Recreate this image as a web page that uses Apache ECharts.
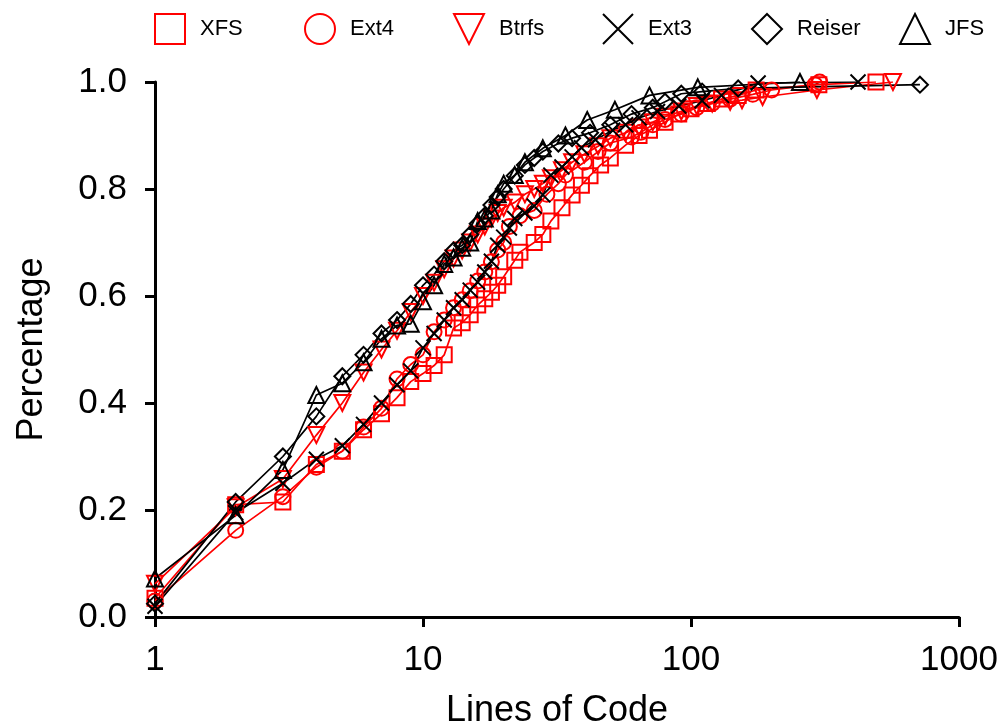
<!DOCTYPE html>
<html>
<head>
<meta charset="utf-8">
<script src="https://cdn.jsdelivr.net/npm/echarts/dist/echarts.min.js"></script>
<style>
  html, body { margin: 0; padding: 0; background: #fff; }
  #chart { width: 1003px; height: 726px; }
</style>
</head>
<body>
<div id="chart"></div>
<script>
// lines of code (x) and cumulative share (y) per file system
const xfsLoc = [1, 2, 3, 4, 5, 6, 7, 8, 9, 10, 11, 12, 13, 14, 15, 16, 17, 18, 19, 20, 22, 23, 26, 28, 30, 33, 36, 39, 42, 46, 50, 57, 64, 70, 80, 90, 100, 115, 130, 150, 175, 300, 490];
const xfsPct = [0.035, 0.21, 0.215, 0.285, 0.31, 0.35, 0.38, 0.41, 0.44, 0.455, 0.47, 0.49, 0.54, 0.55, 0.565, 0.583, 0.595, 0.607, 0.62, 0.636, 0.667, 0.682, 0.70, 0.715, 0.74, 0.765, 0.789, 0.807, 0.825, 0.845, 0.858, 0.882, 0.90, 0.91, 0.925, 0.94, 0.95, 0.96, 0.968, 0.975, 0.985, 0.995, 1.0];

const ext4Loc = [1, 2, 3, 4, 5, 6, 7, 8, 9, 10, 11, 12, 13, 14, 15, 16, 17, 18, 19, 20, 21, 23, 26, 29, 32, 34, 40, 45, 50, 60, 65, 72, 80, 92, 105, 120, 140, 170, 200, 290, 302];
const ext4Pct = [0.03, 0.162, 0.225, 0.28, 0.31, 0.355, 0.39, 0.445, 0.472, 0.49, 0.533, 0.555, 0.578, 0.593, 0.61, 0.628, 0.645, 0.664, 0.686, 0.70, 0.73, 0.75, 0.76, 0.79, 0.81, 0.826, 0.85, 0.87, 0.886, 0.897, 0.906, 0.92, 0.93, 0.94, 0.952, 0.96, 0.968, 0.977, 0.985, 0.995, 1.0];

const btrfsLoc = [1, 2, 3, 4, 5, 6, 7, 8, 9, 10, 11, 12, 13, 14, 15, 16, 17, 18, 19, 20, 22, 24, 26, 28, 30, 33, 36, 40, 45, 50, 57, 64, 72, 80, 92, 105, 120, 140, 155, 185, 295, 567];
const btrfsPct = [0.062, 0.205, 0.258, 0.34, 0.40, 0.457, 0.50, 0.535, 0.57, 0.60, 0.625, 0.65, 0.67, 0.685, 0.70, 0.715, 0.73, 0.745, 0.755, 0.765, 0.775, 0.79, 0.80, 0.81, 0.82, 0.835, 0.85, 0.865, 0.88, 0.895, 0.905, 0.915, 0.925, 0.935, 0.945, 0.955, 0.96, 0.963, 0.966, 0.972, 0.985, 1.0];

const ext3Loc = [1, 2, 3, 4, 5, 6, 7, 8, 9, 10, 11, 12, 13, 14, 15, 16, 17, 18, 19, 20, 21, 22, 24, 26, 28, 30, 33, 36, 39, 44, 51, 57, 64, 75, 90, 110, 130, 178, 420];
const ext3Pct = [0.02, 0.195, 0.25, 0.295, 0.32, 0.36, 0.40, 0.434, 0.46, 0.503, 0.53, 0.555, 0.578, 0.593, 0.611, 0.626, 0.645, 0.665, 0.695, 0.71, 0.727, 0.745, 0.755, 0.768, 0.789, 0.826, 0.841, 0.86, 0.877, 0.892, 0.91, 0.92, 0.933, 0.945, 0.955, 0.965, 0.975, 0.998, 1.0];

const reiserLoc = [1, 2, 3, 4, 5, 6, 7, 8, 9, 10, 11, 12, 13, 14, 15, 16, 17, 18, 19, 20, 22, 24, 26, 28, 32, 36, 42, 50, 60, 72, 80, 92, 110, 150, 715];
const reiserPct = [0.025, 0.215, 0.30, 0.375, 0.45, 0.49, 0.53, 0.555, 0.585, 0.62, 0.64, 0.665, 0.685, 0.695, 0.715, 0.735, 0.75, 0.77, 0.785, 0.80, 0.825, 0.845, 0.858, 0.87, 0.885, 0.895, 0.905, 0.92, 0.94, 0.952, 0.963, 0.978, 0.982, 0.988, 0.995];

const jfsLoc = [1, 2, 3, 4, 5, 6, 7, 8, 9, 10, 11, 12, 13, 14, 15, 16, 17, 18, 19, 20, 22, 24, 28, 34, 41, 52, 70, 106, 255];
const jfsPct = [0.072, 0.19, 0.275, 0.415, 0.437, 0.476, 0.52, 0.545, 0.548, 0.59, 0.62, 0.66, 0.672, 0.69, 0.70, 0.74, 0.745, 0.76, 0.79, 0.81, 0.826, 0.85, 0.876, 0.90, 0.929, 0.948, 0.975, 0.99, 1.0];

const yTicks = [0, 0.2, 0.4, 0.6, 0.8, 1.0];

const FONT = '"Liberation Sans", Arial, Helvetica, sans-serif';
const crossPath = 'path://M0,0L10,10M10,0L0,10';
const triDownPath = 'path://M0,0L10,0L5,10Z';

const fsList = [
  { name: 'XFS', loc: xfsLoc, pct: xfsPct, color: '#ff0000', symbol: 'rect', size: 15, legendLeft: 154 },
  { name: 'Ext4', loc: ext4Loc, pct: ext4Pct, color: '#ff0000', symbol: 'circle', size: 15, legendLeft: 304 },
  { name: 'Btrfs', loc: btrfsLoc, pct: btrfsPct, color: '#ff0000', symbol: triDownPath, size: 16, legendLeft: 453 },
  { name: 'Ext3', loc: ext3Loc, pct: ext3Pct, color: '#000000', symbol: crossPath, size: 15, legendLeft: 602 },
  { name: 'Reiser', loc: reiserLoc, pct: reiserPct, color: '#000000', symbol: 'diamond', size: 16, legendLeft: 751 },
  { name: 'JFS', loc: jfsLoc, pct: jfsPct, color: '#000000', symbol: 'triangle', size: 16, legendLeft: 899 },
];

const chart = echarts.init(document.getElementById('chart'));

const series = fsList.map(fs => ({
  name: fs.name,
  type: 'line',
  data: fs.loc.map((x, i) => [x, fs.pct[i]]),
  symbol: fs.symbol,
  symbolSize: fs.size,
  showAllSymbol: true,
  smooth: false,
  animation: false,
  lineStyle: { color: fs.color, width: 1.7 },
  itemStyle: { color: 'rgba(0,0,0,0)', borderColor: fs.color, borderWidth: 2 },
  emphasis: { disabled: true },
}));

const legends = fsList.map(fs => ({
  left: fs.legendLeft,
  top: 13,
  padding: 0,
  itemWidth: 30,
  itemHeight: 30,
  selectedMode: false,
  data: [{ name: fs.name, icon: fs.symbol }],
  itemStyle: { color: 'rgba(0,0,0,0)', borderColor: fs.color, borderWidth: 2 },
  textStyle: { fontFamily: FONT, fontSize: 22, color: '#000', padding: [0, 0, 0, 10] },
}));

chart.setOption({
  backgroundColor: '#fff',
  animation: false,
  legend: legends,
  grid: { left: 155, right: 44, top: 82, bottom: 109, containLabel: false, outerBoundsMode: 'none' },
  xAxis: {
    type: 'log',
    logBase: 10,
    min: 1,
    max: 1000,
    name: 'Lines of Code',
    nameLocation: 'middle',
    nameGap: 76,
    nameTextStyle: { fontFamily: FONT, fontSize: 36, color: '#000' },
    axisLine: { show: true, lineStyle: { color: '#000', width: 3 } },
    axisTick: { show: true, inside: false, length: 10, lineStyle: { color: '#000', width: 3 } },
    minorTick: { show: false },
    splitLine: { show: false },
    axisLabel: {
      margin: 26,
      fontFamily: FONT,
      fontSize: 35,
      color: '#000',
      formatter: v => String(Math.round(v)),
    },
  },
  yAxis: {
    type: 'value',
    min: 0,
    max: 1,
    interval: 0.2,
    name: 'Percentage',
    nameLocation: 'middle',
    nameGap: 105,
    nameTextStyle: { fontFamily: FONT, fontSize: 36, color: '#000' },
    axisLine: { show: true, lineStyle: { color: '#000', width: 3 } },
    axisTick: { show: true, inside: false, length: 10, lineStyle: { color: '#000', width: 3 } },
    splitLine: { show: false },
    axisLabel: {
      margin: 28,
      fontFamily: FONT,
      fontSize: 35,
      color: '#000',
      formatter: v => (yTicks.indexOf(Math.round(v * 10) / 10) >= 0 ? v.toFixed(1) : ''),
    },
  },
  series: series,
});
</script>
</body>
</html>
